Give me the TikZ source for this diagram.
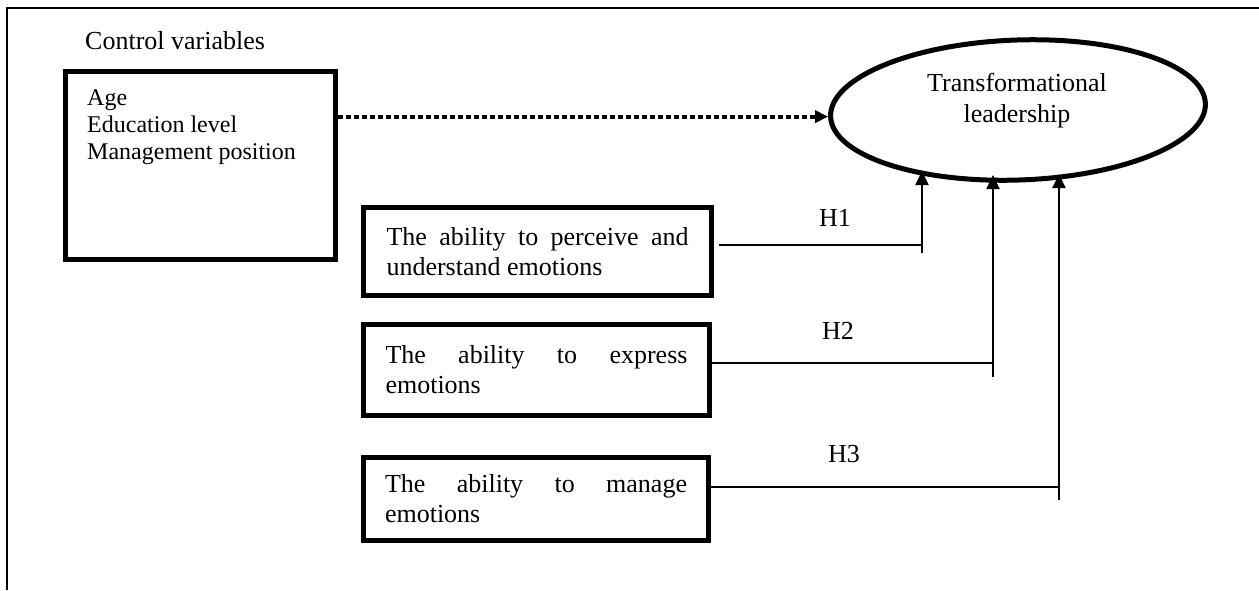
\documentclass[tikz,border=0pt]{standalone}
\usepackage{fontspec}
\setmainfont{Liberation Serif}
\usetikzlibrary{arrows.meta,shapes.geometric}
\begin{document}
\begin{tikzpicture}[x=1pt,y=1pt,
  big/.style={font=\fontsize{26}{30}\selectfont},
  small/.style={font=\fontsize{24}{27}\selectfont},
  thickbox/.style={draw, line width=5pt, rectangle, inner sep=0pt},
  abox/.style={thickbox, big, text width=302pt, align=justify},
  conn/.style={line width=2pt},
  uparrow/.style={conn, -{Triangle[length=14pt,width=13pt]}},
  dotarrow/.style={line width=4pt, dash pattern=on 5pt off 3pt, -{Triangle[length=13pt,width=12pt]}},
  frame/.style={line width=2.5pt}
]
\useasboundingbox (0,0) rectangle (1259,-590);
% frame (top and left edges)
\coordinate (fbl) at (7,-590);
\coordinate (ftl) at (7,-8);
\coordinate (ftr) at (1259,-8);
\draw[frame] (fbl) -- (ftl) -- (ftr);

% control variables
\node[big, anchor=base west, inner sep=0pt] (cvlabel) at (85,-49) {Control variables};
\node[thickbox, minimum width=270pt, minimum height=188pt] (ctrl) at (200.5,-165.5) {};
\node[small, anchor=north west, inner sep=0pt, align=left] (ctrltext) at (87,-89)
  {Age\\Education level\\Management position};

% outcome ellipse
\node[draw, ellipse, line width=5pt, minimum width=375pt, minimum height=140pt,
  inner sep=0pt, rotate=2] (tl) at (1018,-110) {};
\node[align=center, anchor=north, inner sep=0pt, font=\fontsize{26}{31}\selectfont]
  (tltext) at (1017,-73) {Transformational\\leadership};

% predictor boxes
\node[abox, minimum width=348pt, minimum height=88pt] (b1) at (537.5,-251.5)
  {The ability to perceive and \mbox{understand} \mbox{emotions}};
\node[abox, minimum width=346pt, minimum height=91pt] (b2) at (536.5,-370)
  {The ability to express \mbox{emotions}};
\node[abox, minimum width=345pt, minimum height=83pt] (b3) at (536,-499)
  {The ability to manage \mbox{emotions}};

% dotted arrow from controls
\draw[dotarrow] (ctrl.east |- tl.west) -- (tl.west);

% H1
\coordinate (c1) at (922,-245);
\coordinate (c1b) at (922,-253);
\coordinate (e1) at (922,-171);
\draw[conn] ([xshift=5pt]b1.east |- c1) -- (c1);
\draw[uparrow] (c1b) -- (e1);
\node[big, inner sep=0pt] (h1) at (835,-218) {H1};

% H2
\coordinate (c2) at (993,-363);
\coordinate (c2b) at (993,-377);
\coordinate (e2) at (993,-175);
\draw[conn] (b2.east |- c2) -- (c2);
\draw[uparrow] (c2b) -- (e2);
\node[big, inner sep=0pt] (h2) at (838,-331) {H2};

% H3
\coordinate (c3) at (1059,-487);
\coordinate (c3b) at (1059,-500);
\coordinate (e3) at (1059,-174);
\draw[conn] (b3.east |- c3) -- (c3);
\draw[uparrow] (c3b) -- (e3);
\node[big, inner sep=0pt] (h3) at (844,-454) {H3};
\end{tikzpicture}
\end{document}
